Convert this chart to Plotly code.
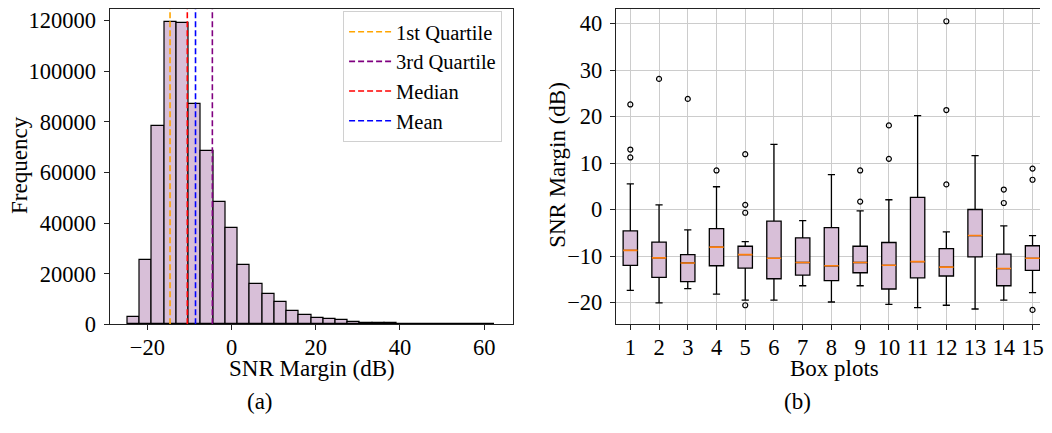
import numpy as np
import plotly.graph_objects as go

# ---------------- data: histogram (a) ----------------
hist_min = -24.7
hist_max = 62.5
n_bins = 30
hist_counts = [3000, 25600, 78300, 119500, 119100, 87000, 68300, 48300, 38200, 23300,
               16050, 12100, 8800, 5100, 3800, 2500, 2100, 1600, 1050, 650,
               500, 350, 250, 150, 100, 80, 60, 40, 30, 20]
stat_names = ["1st Quartile", "3rd Quartile", "Median", "Mean"]
stat_values = [-14.6, -4.55, -10.5, -8.55]
stat_colors = ["orange", "purple", "red", "blue"]

# ---------------- data: box plots (b) ----------------
box_labels = list(range(1, 16))
box_low = [-17.4, -20.1, -17.0, -18.2, -19.5, -19.5, -16.4, -19.9, -16.4, -20.4, -21.1, -20.6, -21.4, -19.5, -17.9]
box_q1 = [-12.0, -14.6, -15.5, -12.1, -12.6, -14.9, -14.1, -15.3, -13.6, -17.1, -14.7, -14.3, -10.2, -16.4, -13.1]
box_med = [-8.8, -10.4, -11.5, -8.1, -9.7, -10.5, -11.4, -12.1, -11.4, -12.0, -11.2, -12.4, -5.6, -12.7, -10.5]
box_q3 = [-4.6, -7.0, -9.7, -4.1, -7.9, -2.5, -6.1, -3.9, -7.9, -7.1, 2.6, -8.4, 0.0, -9.6, -7.8]
box_high = [5.5, 1.0, -4.4, 4.9, -6.9, 14.0, -2.4, 7.5, -0.3, 2.1, 20.2, -4.8, 11.6, -3.5, -5.6]
box_outliers = [
    [22.6, 12.9, 11.2],
    [28.1],
    [23.8],
    [8.4],
    [11.9, 1.0, -0.7, -20.6],
    [],
    [],
    [],
    [8.4, 1.7],
    [18.1, 10.9],
    [],
    [40.5, 21.4, 5.4],
    [],
    [4.3, 1.4],
    [8.8, 6.4, -21.6],
]

# ---------------- style ----------------
FONT = "Liberation Serif, Times New Roman, DejaVu Serif, serif"
FILL = "#d8bfd8"
OFF = 8            # page body margin
W, H = 1052 - 2 * OFF, 433 - 2 * OFF
SY, OY = 0.9705, 8.6   # observed vertical mapping of the photographed page
YMAX_A = 124590

edges = np.linspace(hist_min, hist_max, n_bins + 1)
centers = (edges[:-1] + edges[1:]) / 2
bw = edges[1] - edges[0]

fig = go.Figure()

fig.add_trace(go.Bar(
    x=centers, y=hist_counts, width=bw,
    marker=dict(color=FILL, line=dict(color="black", width=1.2)),
    showlegend=False, xaxis="x", yaxis="y", hoverinfo="skip"))

for name, v, c in zip(stat_names, stat_values, stat_colors):
    fig.add_trace(go.Scatter(
        x=[v, v], y=[0, YMAX_A], mode="lines", name=name,
        line=dict(color=c, width=1.6, dash="6px,3px"),
        xaxis="x", yaxis="y"))

# box plots
fig.add_trace(go.Box(
    x=box_labels, q1=box_q1, median=box_med, q3=box_q3,
    lowerfence=box_low, upperfence=box_high,
    width=0.5, whiskerwidth=0.5,
    fillcolor=FILL, line=dict(color="black", width=1.3),
    boxpoints=False, showlegend=False, xaxis="x2", yaxis="y2"))

mx, my = [], []
for xi, m in zip(box_labels, box_med):
    mx += [xi - 0.25, xi + 0.25, None]
    my += [m, m, None]
fig.add_trace(go.Scatter(x=mx, y=my, mode="lines", line=dict(color="#ff7f0e", width=1.6),
                         showlegend=False, xaxis="x2", yaxis="y2", hoverinfo="skip"))

ox, oy = [], []
for xi, outs in zip(box_labels, box_outliers):
    for o in outs:
        ox.append(xi)
        oy.append(o)
fig.add_trace(go.Scatter(x=ox, y=oy, mode="markers",
                         marker=dict(symbol="circle-open", size=5, color="black", line=dict(width=1.2)),
                         showlegend=False, xaxis="x2", yaxis="y2", hoverinfo="skip"))

def px_x(p):
    return (p - OFF) / W

def px_y(p):
    return 1 - (p / SY - OY) / H

axis_common = dict(showline=True, linecolor="#222", linewidth=1.2, ticks="outside",
                   ticklen=5, tickwidth=1.2, tickcolor="#222",
                   tickfont=dict(family=FONT, size=22.5, color="black"), zeroline=False)

fig.update_layout(
    width=W, height=H,
    margin=dict(l=0, r=0, t=0, b=0),
    plot_bgcolor="white", paper_bgcolor="white",
    bargap=0,
    xaxis=dict(domain=[px_x(110), px_x(515)], range=[-28.95, 66.85],
               tickvals=[-20, 0, 20, 40, 60], mirror=True, showgrid=False, anchor="y",
               ticklabelstandoff=-2, **axis_common),
    yaxis=dict(domain=[px_y(325), 1.0], range=[0, YMAX_A],
               tickvals=[0, 20000, 40000, 60000, 80000, 100000, 120000], tickformat="d",
               mirror=True, showgrid=False, anchor="x", ticklabelstandoff=3, **axis_common),
    xaxis2=dict(domain=[px_x(618.3), 1.0], range=[0.5, 15.26],
                tickvals=box_labels, mirror=True, showgrid=True, gridcolor="#cccccc",
                gridwidth=1, anchor="y2", ticklabelstandoff=-2,
                ticklabeloverflow="allow", **axis_common),
    yaxis2=dict(domain=[px_y(325), 1.0], range=[-24.7, 43.14],
                tickvals=[-20, -10, 0, 10, 20, 30, 40], mirror=False, showgrid=True,
                gridcolor="#cccccc", gridwidth=1, anchor="x2", ticklabelstandoff=3,
                **axis_common),
    legend=dict(x=px_x(504), y=1 - 2 / H, xanchor="right", yanchor="top",
                bordercolor="#d0d0d0", borderwidth=1, bgcolor="white",
                font=dict(family=FONT, size=20.5, color="black"),
                tracegroupgap=0, itemwidth=42),
    font=dict(family=FONT, color="black"),
)

ann = [
    dict(text="Frequency", x=px_x(20), y=px_y(165), textangle=-90),
    dict(text="SNR Margin (dB)", x=px_x(313), y=px_y(369)),
    dict(text="SNR Margin (dB)", x=px_x(560), y=px_y(165), textangle=-90),
    dict(text="Box plots", x=px_x(838), y=px_y(369)),
    dict(text="(a)", x=px_x(261), y=1 - 406 / H),
    dict(text="(b)", x=px_x(801), y=1 - 406 / H),
]
for a in ann:
    fig.add_annotation(xref="paper", yref="paper", showarrow=False,
                       xanchor="center", yanchor="middle",
                       font=dict(family=FONT, size=23, color="black"), **a)

fig.write_html("out.html")
